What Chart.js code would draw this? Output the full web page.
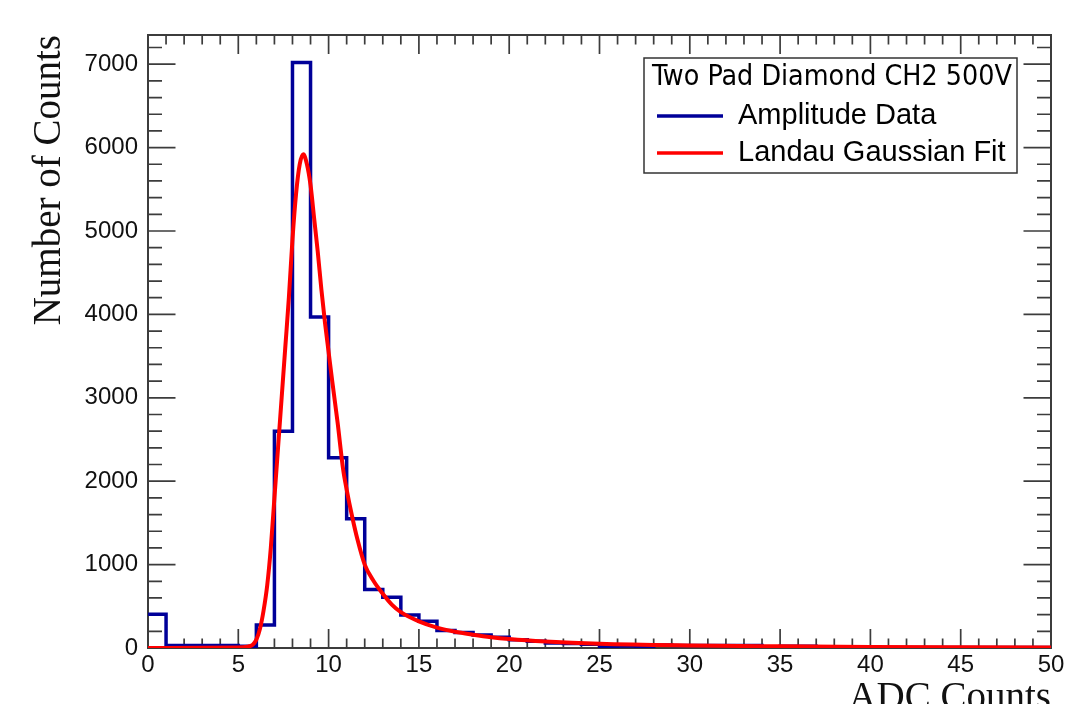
<!DOCTYPE html>
<html>
<head>
<meta charset="utf-8">
<script src="https://cdn.jsdelivr.net/npm/chart.js@4.4.1/dist/chart.umd.min.js"></script>
<style>
  body { margin: 0; background: #ffffff; }
  #wrap { width: 1076px; height: 704px; }
</style>
</head>
<body>
<div id="wrap"><canvas id="adcChart" width="1076" height="704"></canvas></div>
<script>
// Histogram bin edges (ADC counts) and counts per bin
var binEdges = [0, 1, 2, 3, 4, 5, 6, 7, 8, 9, 10, 11, 12, 13, 14, 15, 16, 17, 18, 19, 20,
    21, 22, 23, 24, 25, 26, 27, 28, 29, 30, 31, 32, 33, 34, 35, 36, 37, 38, 39, 40,
    41, 42, 43, 44, 45, 46, 47, 48, 49, 50];
var binCounts = [405, 30, 30, 30, 30, 20, 275, 2600, 7020, 3970,
    2280, 1550, 700, 610, 396, 320, 210, 185, 155, 130,
    100, 80, 60, 55, 45, 15, 25, 15, 35, 30,
    30, 30, 30, 30, 5, 20, 20, 5, 5, 5,
    5, 5, 5, 5, 5, 5, 5, 5, 5, 5];

// Landau (x) Gaussian fit curve
var fitX = [0, 5, 5.5, 5.8, 6.0, 6.2, 6.4, 6.6, 6.8, 7.0, 7.2, 7.4, 7.6, 7.8, 8.0, 8.2, 8.4, 8.6,
    8.8, 9.0, 9.2, 9.4, 9.6, 9.8, 10.0, 10.2, 10.5, 10.8, 11.0, 11.3, 11.6, 12.0, 12.5, 13.0,
    13.5, 14.0, 15.0, 16.0, 17.0, 18.0, 19.0, 20.0, 22.0, 25.0, 30.0, 35.0, 40.0, 45.0, 50.0];
var fitY = [0, 5, 15, 40, 100, 230, 450, 750, 1200, 1800, 2400, 3000, 3600, 4200, 4900, 5450, 5800, 5920,
    5800, 5550, 5150, 4750, 4300, 3900, 3550, 3200, 2700, 2150, 1900, 1580, 1300, 1000, 800, 650,
    520, 430, 320, 245, 195, 160, 130, 108, 78, 50, 30, 20, 13, 9, 7];

// Axis labels
var xTickValues = [0, 5, 10, 15, 20, 25, 30, 35, 40, 45, 50];
var yTickValues = [0, 1000, 2000, 3000, 4000, 5000, 6000, 7000];

var legendTitle = 'Two Pad Diamond CH2 500V';

var histPoints = binEdges.map(function(x, i) {
    return { x: x, y: binCounts[Math.min(i, binCounts.length - 1)] };
});
var fitPoints = fitX.map(function(x, i) {
    return { x: x, y: fitY[i] };
});

// ROOT style frame with ticks drawn inwards on all four sides
var rootFrame = {
    id: 'rootFrame',
    beforeDatasetsDraw: function(chart) {
        var ctx = chart.ctx, a = chart.chartArea;
        var xs = chart.scales.x, ys = chart.scales.y;
        ctx.save();
        ctx.strokeStyle = '#3c3c3c';
        ctx.lineWidth = 2;
        ctx.strokeRect(a.left, a.top, a.right - a.left, a.bottom - a.top);
        ctx.lineWidth = 1.7;
        ctx.beginPath();
        for (var v = xs.min; v <= xs.max; v += 1) {
            var px = xs.getPixelForValue(v);
            var len = (v % 5 === 0) ? 19 : 9.5;
            ctx.moveTo(px, a.bottom); ctx.lineTo(px, a.bottom - len);
            ctx.moveTo(px, a.top); ctx.lineTo(px, a.top + len);
        }
        for (var w = ys.min; w <= ys.max; w += 200) {
            var py = ys.getPixelForValue(w);
            var ylen = (w % 1000 === 0) ? 27.5 : 14;
            ctx.moveTo(a.left, py); ctx.lineTo(a.left + ylen, py);
            ctx.moveTo(a.right, py); ctx.lineTo(a.right - ylen, py);
        }
        ctx.stroke();
        ctx.restore();
    }
};

// Legend box in the top right corner like ROOT's TLegend
var rootLegend = {
    id: 'rootLegend',
    afterDraw: function(chart) {
        var ctx = chart.ctx;
        var box = { left: 644, top: 58, right: 1017, bottom: 173 };
        ctx.save();
        ctx.fillStyle = '#ffffff';
        ctx.fillRect(box.left, box.top, box.right - box.left, box.bottom - box.top);
        ctx.strokeStyle = '#333333';
        ctx.lineWidth = 1.5;
        ctx.strokeRect(box.left, box.top, box.right - box.left, box.bottom - box.top);

        // title squeezed to the width it has in the picture
        var size = 28;
        ctx.font = size + 'px "DejaVu Sans Condensed", "DejaVu Sans", sans-serif';
        var tw = ctx.measureText(legendTitle).width;
        size = size * 360 / tw;
        ctx.font = size + 'px "DejaVu Sans Condensed", "DejaVu Sans", sans-serif';
        ctx.fillStyle = '#000000';
        ctx.textBaseline = 'alphabetic';
        ctx.fillText(legendTitle, 652, 85);

        var rows = [116, 153];
        chart.data.datasets.forEach(function(ds, i) {
            ctx.strokeStyle = ds.borderColor;
            ctx.lineWidth = 3.5;
            ctx.beginPath();
            ctx.moveTo(657, rows[i]);
            ctx.lineTo(723, rows[i]);
            ctx.stroke();
            ctx.font = '29px "Liberation Sans", Arial, sans-serif';
            ctx.fillStyle = '#000000';
            ctx.fillText(ds.label, 738, rows[i] + 8);
        });
        ctx.restore();
    }
};

var ctx = document.getElementById('adcChart').getContext('2d');
var adcChart = new Chart(ctx, {
    type: 'line',
    data: {
        datasets: [{
            label: 'Amplitude Data',
            data: histPoints,
            stepped: 'before',
            borderColor: '#000099',
            borderWidth: 3.5,
            borderJoinStyle: 'miter',
            pointRadius: 0,
            fill: false,
            order: 2
        }, {
            label: 'Landau Gaussian Fit',
            data: fitPoints,
            borderColor: '#ff0000',
            borderWidth: 4,
            cubicInterpolationMode: 'monotone',
            pointRadius: 0,
            fill: false,
            order: 1
        }]
    },
    options: {
        responsive: false,
        animation: false,
        devicePixelRatio: 1,
        layout: { padding: { top: 35, right: 25, left: 0, bottom: 0 } },
        plugins: {
            legend: { display: false },
            tooltip: { enabled: false }
        },
        scales: {
            x: {
                type: 'linear',
                min: 0,
                max: 50,
                grid: { display: false, drawTicks: false },
                border: { display: false },
                afterBuildTicks: function(scale) {
                    scale.ticks = xTickValues.map(function(v) { return { value: v }; });
                },
                afterFit: function(scale) { scale.height = 56; },
                ticks: {
                    maxRotation: 0,
                    autoSkip: false,
                    padding: 3,
                    color: '#111111',
                    font: { family: '"Liberation Sans", Arial, sans-serif', size: 24 },
                    callback: function(value) { return String(value); }
                },
                title: {
                    display: true,
                    text: 'ADC Counts',
                    align: 'end',
                    color: '#111111',
                    padding: { top: 0, bottom: -14.5 },
                    font: { family: '"Liberation Serif", "Times New Roman", serif', size: 39, lineHeight: 1 }
                }
            },
            y: {
                min: 0,
                max: 7350,
                grid: { display: false, drawTicks: false },
                border: { display: false },
                afterBuildTicks: function(scale) {
                    scale.ticks = yTickValues.map(function(v) { return { value: v }; });
                },
                afterFit: function(scale) { scale.width = 148; },
                ticks: {
                    padding: 10,
                    color: '#111111',
                    font: { family: '"Liberation Sans", Arial, sans-serif', size: 24 },
                    callback: function(value) { return String(value); }
                },
                title: {
                    display: true,
                    text: 'Number of Counts',
                    align: 'end',
                    color: '#111111',
                    padding: { top: 30, bottom: 0 },
                    font: { family: '"Liberation Serif", "Times New Roman", serif', size: 39, lineHeight: 1 }
                }
            }
        }
    },
    plugins: [rootFrame, rootLegend]
});
</script>
</body>
</html>
